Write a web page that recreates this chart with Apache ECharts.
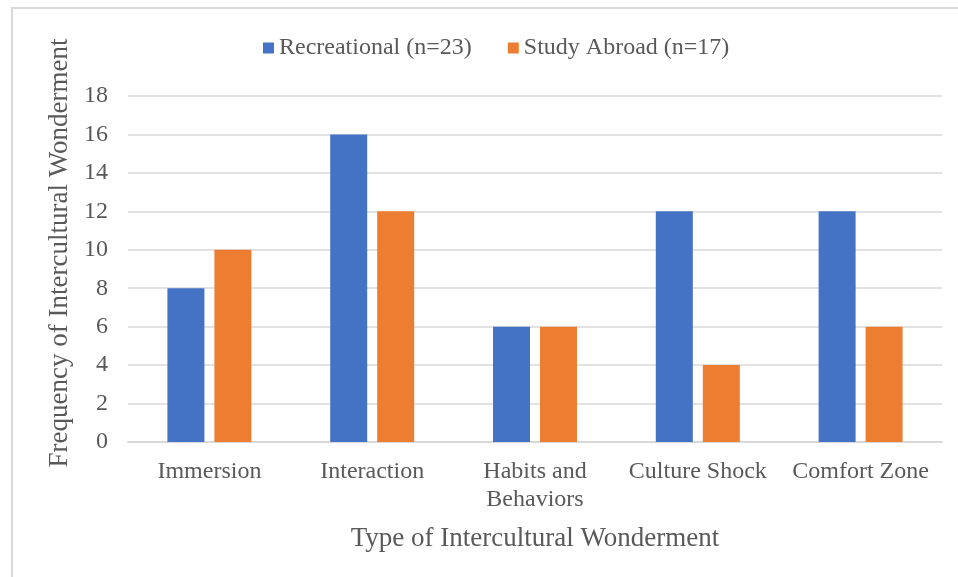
<!DOCTYPE html>
<html>
<head>
<meta charset="utf-8">
<script src="https://cdn.jsdelivr.net/npm/echarts@6/dist/echarts.min.js"></script>
<style>
    html, body { margin: 0; padding: 0; background: #fff; }
    #frame {
        position: absolute; left: 11px; top: 7px; width: 960px; height: 580px;
        border: 2px solid #D9D9D9; box-sizing: border-box;
    }
    #chart { position: absolute; left: 0; top: 0; width: 958px; height: 577px; }
</style>
</head>
<body>
<div id="frame"></div>
<div id="chart"></div>
<script>
const categories = ['Immersion', 'Interaction', 'Habits and\nBehaviors', 'Culture Shock', 'Comfort Zone'];
const recreational = [8, 16, 6, 12, 12];
const studyAbroad = [10, 12, 6, 4, 6];
const seriesNames = ['Recreational (n=23)', 'Study Abroad (n=17)'];

window.addEventListener('load', () => {
    const chart = echarts.init(document.getElementById('chart'));
    const font = '"Liberation Serif", "Times New Roman", serif';
    chart.setOption({
        animation: false,
        textStyle: { fontFamily: font, color: '#595959' },
        legend: {
            top: 31,
            left: 258,
            itemWidth: 11,
            itemHeight: 11,
            itemGap: 36,
            icon: 'rect',
            textStyle: { fontFamily: font, fontSize: 24, color: '#595959' },
        },
        grid: { left: 128, right: 16, top: 96, bottom: 135 },
        xAxis: {
            type: 'category',
            data: categories,
            name: 'Type of Intercultural Wonderment',
            nameLocation: 'middle',
            nameGap: 83,
            nameTextStyle: { fontFamily: font, fontSize: 27, color: '#595959' },
            axisLine: { lineStyle: { color: '#D9D9D9', width: 2 } },
            axisTick: { show: false },
            axisLabel: { fontFamily: font, fontSize: 24, color: '#595959', margin: 16, lineHeight: 28, interval: 0 },
        },
        yAxis: {
            type: 'value',
            min: 0,
            max: 18,
            interval: 2,
            name: 'Frequency of Intercultural Wonderment',
            nameLocation: 'middle',
            nameGap: 52,
            nameTextStyle: { fontFamily: font, fontSize: 27, color: '#595959', padding: [0, 0, 0, 32] },
            axisLine: { show: false },
            axisTick: { show: false },
            axisLabel: { fontFamily: font, fontSize: 24, color: '#595959', margin: 20 },
            splitLine: { lineStyle: { color: '#D9D9D9', width: 1.5 } },
        },
        series: [
            {
                name: seriesNames[0],
                type: 'bar',
                data: recreational,
                barWidth: 37,
                barGap: '27%',
                itemStyle: { color: '#4472C4' },
            },
            {
                name: seriesNames[1],
                type: 'bar',
                data: studyAbroad,
                barWidth: 37,
                itemStyle: { color: '#ED7D31' },
            },
        ],
    });
});
</script>
</body>
</html>
